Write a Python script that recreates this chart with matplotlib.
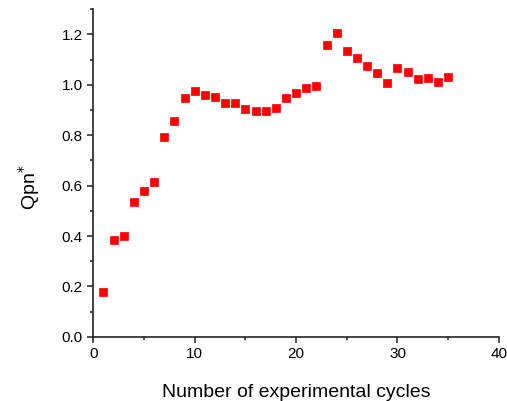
import matplotlib
matplotlib.use("Agg")
import matplotlib.pyplot as plt
from matplotlib.ticker import MultipleLocator

plt.rcParams['font.family'] = ['Liberation Sans', 'DejaVu Sans']

cycles = list(range(1, 36))
qpn = [0.177, 0.384, 0.402, 0.536, 0.578, 0.615, 0.794, 0.856, 0.946, 0.977,
       0.958, 0.951, 0.928, 0.928, 0.906, 0.898, 0.898, 0.909, 0.948, 0.966,
       0.986, 0.994, 1.160, 1.206, 1.135, 1.106, 1.073, 1.045, 1.008, 1.067,
       1.052, 1.024, 1.027, 1.011, 1.032]

fig = plt.figure(figsize=(5.07, 4.01), dpi=100)
ax = fig.add_axes([0.184, 0.160, 0.800, 0.817])

ax.plot(cycles, qpn, linestyle='none', marker='s', markersize=6,
        markerfacecolor='#ff0000', markeredgecolor='#ff0000', markeredgewidth=0.5)

ax.set_xlim(0, 40)
ax.set_ylim(0, 1.3)
ax.xaxis.set_major_locator(MultipleLocator(10))
ax.xaxis.set_minor_locator(MultipleLocator(5))
ax.yaxis.set_major_locator(MultipleLocator(0.2))
ax.yaxis.set_minor_locator(MultipleLocator(0.1))
ax.yaxis.set_major_formatter(plt.FuncFormatter(lambda v, p: f"{v:.1f}"))

for side in ('top', 'right'):
    ax.spines[side].set_visible(False)
for side in ('left', 'bottom'):
    ax.spines[side].set_linewidth(1.2)
    ax.spines[side].set_color('#222222')

ax.tick_params(which='major', direction='out', length=4.5, width=1.1,
               labelsize=11, colors='#222222', labelcolor='black', pad=3)
ax.tick_params(which='minor', direction='out', length=2.5, width=1.1, colors='#222222')

ax.set_xlabel('Number of experimental cycles', fontsize=14)
ax.set_ylabel('Qpn$^{*}$', fontsize=14)
ax.xaxis.set_label_coords(0.5, -0.143)
ax.yaxis.set_label_coords(-0.126, 0.455)

fig.savefig('out.png', dpi=100)
